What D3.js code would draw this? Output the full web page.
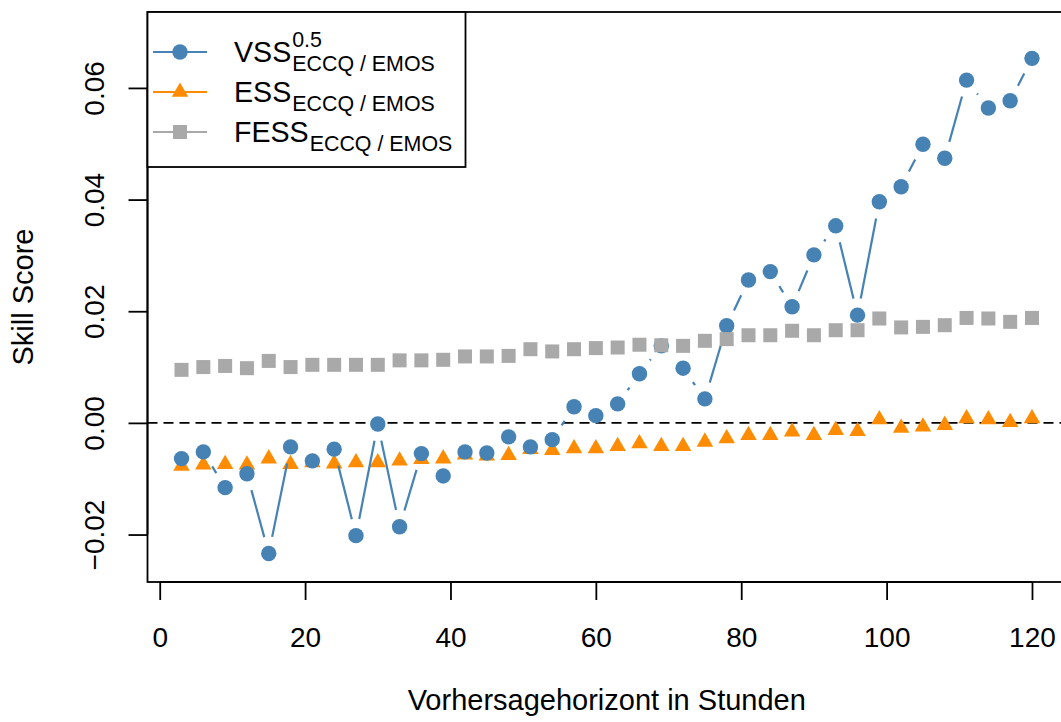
<!DOCTYPE html>
<html>
<head>
<meta charset="utf-8">
<script src="https://cdn.jsdelivr.net/npm/d3@7/dist/d3.min.js"></script>
<style>
  html, body { margin: 0; padding: 0; background: #ffffff; }
  svg { display: block; font-family: "Liberation Sans", Arial, Helvetica, sans-serif; }
</style>
</head>
<body>
<svg id="chart" width="1061" height="722"></svg>
<script>
// Forecast lead times (hours)
const hours = [3, 6, 9, 12, 15, 18, 21, 24, 27, 30, 33, 36, 39, 42, 45, 48, 51, 54, 57, 60,
               63, 66, 69, 72, 75, 78, 81, 84, 87, 90, 93, 96, 99, 102, 105, 108, 111, 114, 117, 120];

// Variogram skill score (p = 0.5), ECC-Q relative to EMOS
const vss = [-0.0064, -0.0052, -0.0116, -0.0091, -0.0234, -0.0043, -0.0068, -0.0047, -0.0202, -0.0002,
             -0.0186, -0.0055, -0.0095, -0.0052, -0.0054, -0.0025, -0.0043, -0.0030, 0.0029, 0.0013,
             0.0034, 0.0088, 0.0138, 0.0098, 0.0043, 0.0174, 0.0256, 0.0271, 0.0208, 0.0301,
             0.0353, 0.0193, 0.0396, 0.0423, 0.0499, 0.0474, 0.0614, 0.0564, 0.0577, 0.0653];

// Energy skill score
const ess = [-0.0077, -0.0075, -0.0074, -0.0075, -0.0064, -0.0074, -0.0071, -0.0073, -0.0071, -0.0071,
             -0.0068, -0.0065, -0.0064, -0.0057, -0.0059, -0.0058, -0.0047, -0.0049, -0.0046, -0.0046,
             -0.0042, -0.0037, -0.0042, -0.0042, -0.0034, -0.0028, -0.0022, -0.0022, -0.0016, -0.0022,
             -0.0013, -0.0015, 0.0006, -0.0009, -0.0007, -0.0004, 0.0008, 0.0006, 0.0001, 0.0008];

// Fourier energy skill score
const fess = [0.0095, 0.0100, 0.0102, 0.0098, 0.0111, 0.0100, 0.0104, 0.0104, 0.0104, 0.0104,
              0.0112, 0.0112, 0.0113, 0.0119, 0.0119, 0.0120, 0.0132, 0.0128, 0.0132, 0.0134,
              0.0135, 0.0140, 0.0139, 0.0138, 0.0147, 0.0150, 0.0157, 0.0157, 0.0165, 0.0157,
              0.0166, 0.0166, 0.0187, 0.0171, 0.0172, 0.0175, 0.0188, 0.0187, 0.0181, 0.0188];

const xTicks = [0, 20, 40, 60, 80, 100, 120];
const yTicks = [-0.02, 0.00, 0.02, 0.04, 0.06];
const xDomain = [-1.68, 124.68];
const yDomain = [-0.0285, 0.0736];

const xTitle = "Vorhersagehorizont in Stunden";
const yTitle = "Skill Score";
const legendMain = ["VSS", "ESS", "FESS"];
const legendSup = ["0.5", "", ""];
const legendSub = "ECCQ / EMOS";

const colBlue = "#4682B4", colOrange = "#FF8C00", colGrey = "#A9A9A9";

const svg = d3.select("#chart");
const plot = { left: 147.5, right: 1066, top: 12, bottom: 582 };

const x = d3.scaleLinear().domain(xDomain).range([plot.left, plot.right]);
const y = d3.scaleLinear().domain(yDomain).range([plot.bottom, plot.top]);

const tickSize = 28, titleSize = 29, legendSize = 28.6, smallSize = 21.4;
const fmtY = v => (v < 0 ? "\u2212" : "") + Math.abs(v).toFixed(2);

// zero reference line
svg.append("line")
  .attr("x1", plot.left).attr("x2", plot.right)
  .attr("y1", y(0)).attr("y2", y(0))
  .attr("stroke", "#000").attr("stroke-width", 1.8)
  .attr("stroke-dasharray", "10,6");

// point-and-line series: segments are trimmed so they stop short of each marker
const gap = 17;
function drawSegments(values, color) {
  const g = svg.append("g");
  for (let i = 0; i < hours.length - 1; i++) {
    const x1 = x(hours[i]), y1 = y(values[i]);
    const x2 = x(hours[i + 1]), y2 = y(values[i + 1]);
    const d = Math.hypot(x2 - x1, y2 - y1);
    if (d <= 2 * gap) continue;
    const ux = (x2 - x1) / d, uy = (y2 - y1) / d;
    g.append("line")
      .attr("x1", x1 + ux * gap).attr("y1", y1 + uy * gap)
      .attr("x2", x2 - ux * gap).attr("y2", y2 - uy * gap)
      .attr("stroke", color).attr("stroke-width", 2.2);
  }
}

const triH = 14.3, triW = 16.5, sqS = 14, circR = 7.7;
function triPath(cx, cy) {
  const top = cy - triH * 2 / 3, base = cy + triH / 3;
  return `M${cx},${top}L${cx + triW / 2},${base}L${cx - triW / 2},${base}Z`;
}

// ESS: triangles
drawSegments(ess, colOrange);
svg.append("g").selectAll("path").data(hours).join("path")
  .attr("d", (h, i) => triPath(x(h), y(ess[i])))
  .attr("fill", colOrange);

// VSS: filled circles
drawSegments(vss, colBlue);
svg.append("g").selectAll("circle").data(hours).join("circle")
  .attr("cx", h => x(h)).attr("cy", (h, i) => y(vss[i]))
  .attr("r", circR).attr("fill", colBlue);

// FESS: filled squares
drawSegments(fess, colGrey);
svg.append("g").selectAll("rect").data(hours).join("rect")
  .attr("x", h => x(h) - sqS / 2).attr("y", (h, i) => y(fess[i]) - sqS / 2)
  .attr("width", sqS).attr("height", sqS).attr("fill", colGrey);

// plot frame
svg.append("rect")
  .attr("x", plot.left).attr("y", plot.top)
  .attr("width", plot.right - plot.left).attr("height", plot.bottom - plot.top)
  .attr("fill", "none").attr("stroke", "#000").attr("stroke-width", 1.8);

// x axis
const xAxis = svg.append("g")
  .attr("transform", `translate(0,${plot.bottom})`)
  .call(d3.axisBottom(x).tickValues(xTicks).tickSize(18).tickFormat(d3.format("d")));
xAxis.select(".domain")
  .attr("d", `M${x(xTicks[0])},0H${x(xTicks[xTicks.length - 1])}`)
  .attr("stroke-width", 1.8);
xAxis.selectAll(".tick line").attr("stroke-width", 1.8);
xAxis.selectAll(".tick text")
  .attr("y", 65).attr("dy", null)
  .attr("font-size", tickSize).attr("font-family", "Liberation Sans, Arial, sans-serif")
  .attr("fill", "#000");

// y axis
const yAxis = svg.append("g")
  .attr("transform", `translate(${plot.left},0)`)
  .call(d3.axisLeft(y).tickValues(yTicks).tickSize(19).tickFormat(fmtY));
yAxis.select(".domain")
  .attr("d", `M0,${y(yTicks[0])}V${y(yTicks[yTicks.length - 1])}`)
  .attr("stroke-width", 1.8);
yAxis.selectAll(".tick line").attr("stroke-width", 1.8);
yAxis.selectAll(".tick text")
  .attr("x", 0).attr("y", 0).attr("dy", null)
  .attr("text-anchor", "middle")
  .attr("transform", "translate(-44,0) rotate(-90)")
  .attr("font-size", tickSize).attr("font-family", "Liberation Sans, Arial, sans-serif")
  .attr("fill", "#000");

// axis titles
svg.append("text")
  .attr("x", (plot.left + plot.right) / 2).attr("y", 710)
  .attr("text-anchor", "middle").attr("font-size", titleSize)
  .text(xTitle);
svg.append("text")
  .attr("transform", `translate(33,${(plot.top + plot.bottom) / 2}) rotate(-90)`)
  .attr("text-anchor", "middle").attr("font-size", titleSize)
  .text(yTitle);

// legend
const legend = svg.append("g");
legend.append("rect")
  .attr("x", plot.left).attr("y", plot.top)
  .attr("width", 318).attr("height", 155)
  .attr("fill", "#fff").attr("stroke", "#000").attr("stroke-width", 1.8);

const rowY = [52, 92, 132];
const legendColors = [colBlue, colOrange, colGrey];
legendMain.forEach((label, i) => {
  const cy = rowY[i];
  legend.append("line")
    .attr("x1", 153).attr("x2", 207).attr("y1", cy).attr("y2", cy)
    .attr("stroke", legendColors[i]).attr("stroke-width", 2.2);
  if (i === 0) {
    legend.append("circle").attr("cx", 180).attr("cy", cy).attr("r", circR).attr("fill", colBlue);
  } else if (i === 1) {
    legend.append("path").attr("d", triPath(180, cy)).attr("fill", colOrange);
  } else {
    legend.append("rect").attr("x", 180 - sqS / 2).attr("y", cy - sqS / 2)
      .attr("width", sqS).attr("height", sqS).attr("fill", colGrey);
  }
  const base = cy + 9.5;
  const main = legend.append("text")
    .attr("x", 234).attr("y", base)
    .attr("font-size", legendSize).text(label);
  const w = main.node().getComputedTextLength();
  if (legendSup[i]) {
    legend.append("text")
      .attr("x", 234 + w + 1).attr("y", base - 15)
      .attr("font-size", smallSize).text(legendSup[i]);
  }
  legend.append("text")
    .attr("x", 234 + w + 1).attr("y", base + 9)
    .attr("font-size", smallSize).text(legendSub);
});
</script>
</body>
</html>
